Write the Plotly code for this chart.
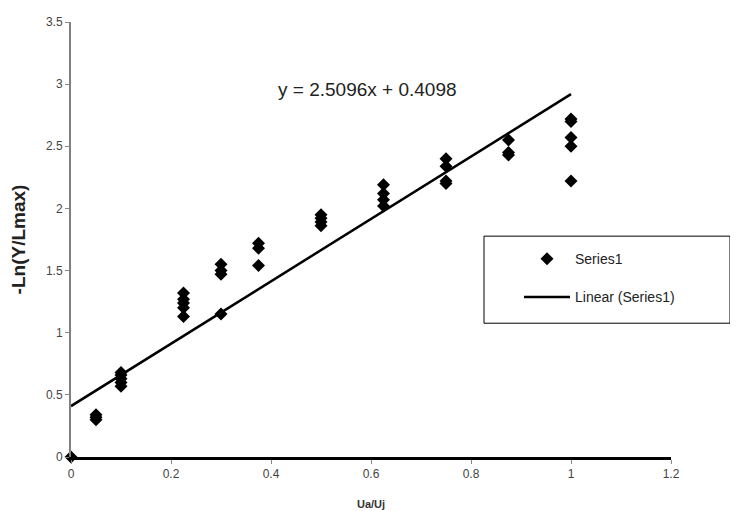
import plotly.graph_objects as go

# Data
x_vals = [0.0,
          0.05, 0.05, 0.05,
          0.1, 0.1, 0.1, 0.1, 0.1,
          0.225, 0.225, 0.225, 0.225, 0.225,
          0.3, 0.3, 0.3, 0.3,
          0.375, 0.375, 0.375,
          0.5, 0.5, 0.5, 0.5,
          0.625, 0.625, 0.625, 0.625,
          0.75, 0.75, 0.75, 0.75,
          0.875, 0.875, 0.875,
          1.0, 1.0, 1.0, 1.0, 1.0]
y_vals = [0.0,
          0.30, 0.32, 0.34,
          0.57, 0.60, 0.63, 0.66, 0.68,
          1.13, 1.20, 1.24, 1.27, 1.32,
          1.15, 1.47, 1.50, 1.55,
          1.54, 1.68, 1.72,
          1.86, 1.89, 1.92, 1.95,
          2.02, 2.07, 2.12, 2.19,
          2.20, 2.22, 2.34, 2.40,
          2.43, 2.45, 2.55,
          2.22, 2.50, 2.57, 2.70, 2.72]

slope = 2.5096
intercept = 0.4098
trend_x = [0.0, 1.0]
trend_y = [intercept + slope * v for v in trend_x]

x_ticks = [0, 0.2, 0.4, 0.6, 0.8, 1, 1.2]
y_ticks = [0, 0.5, 1, 1.5, 2, 2.5, 3, 3.5]

FONT = "Liberation Sans, Arial, sans-serif"

# page body has an 8px offset; layout expressed in screen pixels below
OFF = 8
L, T = 71 - OFF, 22 - OFF
PW, PH = 600, 434.7
W, H = 738 - OFF, 511 - OFF


def px(sx):
    return (sx - 71) / PW


def py(sy):
    return (456.7 - sy) / PH


fig = go.Figure()
fig.add_trace(go.Scatter(
    x=x_vals, y=y_vals, mode="markers", name="Series1",
    marker=dict(symbol="diamond", size=10, color="black"),
    cliponaxis=False, legendgroup="a"))
fig.add_trace(go.Scatter(
    x=trend_x, y=trend_y, mode="lines", name="Linear (Series1)",
    line=dict(color="black", width=2.5), legendgroup="b"))

fig.update_layout(
    width=W, height=H,
    margin=dict(l=L, r=W - L - PW, t=T, b=H - T - PH, autoexpand=False),
    paper_bgcolor="white", plot_bgcolor="white",
    font=dict(family=FONT, color="#333333"),
    showlegend=True,
    legend=dict(x=px(519), xanchor="left",
                y=py(243), yanchor="top",
                bgcolor="rgba(0,0,0,0)", borderwidth=0,
                font=dict(size=14, color="#222222"),
                itemwidth=46,
                tracegroupgap=17, traceorder="grouped"),
    xaxis=dict(range=[0, 1.2], tickvals=x_ticks, ticktext=[str(v) for v in x_ticks],
               showgrid=False, zeroline=False, showline=True, automargin=False,
               linecolor="black", linewidth=2.5,
               ticks="outside", ticklen=4, tickcolor="#888888",
               tickfont=dict(size=12, color="#444444"),
               title=dict(text="<b>Ua/Uj</b>", font=dict(size=11, color="#333333"), standoff=21)),
    yaxis=dict(range=[0, 3.5], tickvals=y_ticks, ticktext=[str(v) for v in y_ticks],
               showgrid=False, zeroline=False, showline=True, automargin=False,
               linecolor="#808080", linewidth=2,
               ticks="outside", ticklen=4, tickcolor="#888888",
               tickfont=dict(size=12, color="#444444"),
               title=dict(text="<b>-Ln(Y/Lmax)</b>", font=dict(size=19, color="#222222"), standoff=17)),
    shapes=[dict(type="rect", xref="paper", yref="paper",
                 x0=px(484), x1=px(730), y0=py(323), y1=py(236),
                 line=dict(color="black", width=1), fillcolor="rgba(0,0,0,0)")],
    annotations=[dict(text="y = 2.5096x + 0.4098", xref="paper", yref="paper",
                      x=px(367), y=py(89), xanchor="center", yanchor="middle",
                      showarrow=False, font=dict(size=19, color="#222222"))],
)

fig.write_html("out.html")
